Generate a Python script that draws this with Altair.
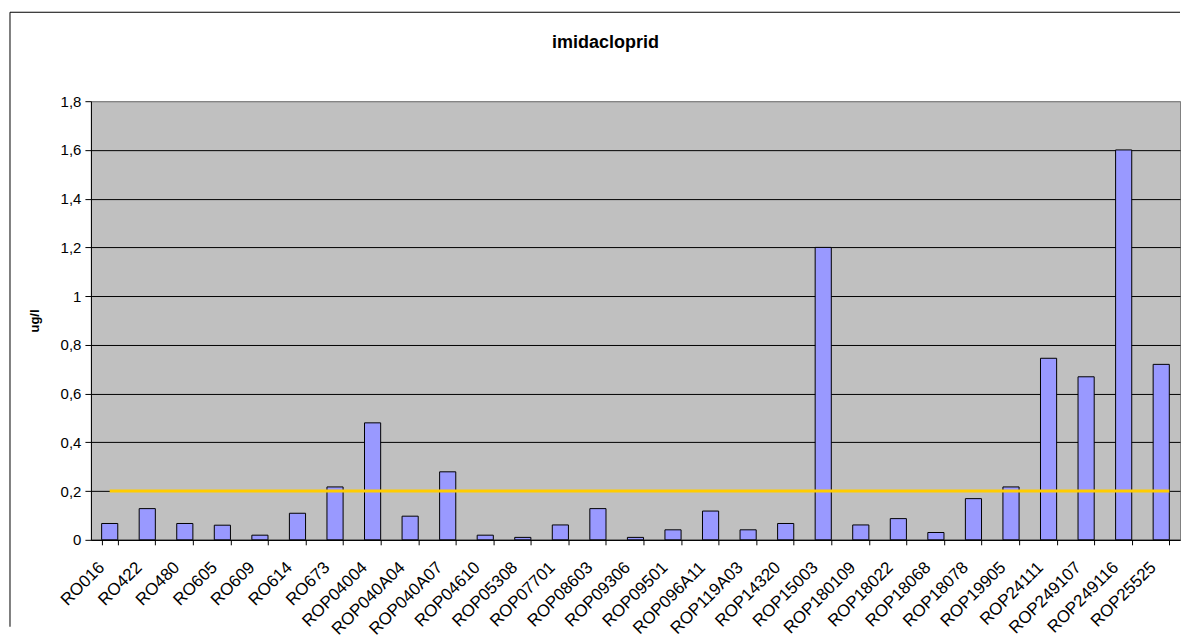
import altair as alt
import pandas as pd

categories = ["RO016", "RO422", "RO480", "RO605", "RO609", "RO614", "RO673",
              "ROP04004", "ROP040A04", "ROP040A07", "ROP04610", "ROP05308",
              "ROP07701", "ROP08603", "ROP09306", "ROP09501", "ROP096A11",
              "ROP119A03", "ROP14320", "ROP15003", "ROP180109", "ROP18022",
              "ROP18068", "ROP18078", "ROP19905", "ROP24111", "ROP249107",
              "ROP249116", "ROP25525"]
values = [0.067, 0.128, 0.067, 0.06, 0.019, 0.109, 0.217,
          0.48, 0.097, 0.279, 0.019, 0.01,
          0.061, 0.128, 0.01, 0.041, 0.118,
          0.041, 0.067, 1.2, 0.061, 0.087,
          0.03, 0.169, 0.217, 0.745, 0.669,
          1.6, 0.72]
threshold = 0.2
y_ticks = [0, 0.2, 0.4, 0.6, 0.8, 1.0, 1.2, 1.4, 1.6, 1.8]
title_text = "imidacloprid"
y_title = "ug/l"

FONT = "Liberation Sans"
W, H = 1090, 439

df = pd.DataFrame({"cat": categories, "val": values})
thr_df = pd.DataFrame({"start": [categories[0]], "end": [categories[-1]], "val": [threshold]})
one = pd.DataFrame({"k": [0]})

xscale = alt.Scale(domain=categories, paddingInner=0.57, paddingOuter=0.285)
yscale = alt.Scale(domain=[0, 1.8], nice=False)

bars = alt.Chart(df).mark_bar(color="#9999FF", stroke="black", strokeWidth=1).encode(
    x=alt.X("cat:N", scale=xscale, sort=categories,
            axis=alt.Axis(title=None, labelAngle=-45, labelAlign="right", labelBaseline="top",
                          labelFont=FONT, labelFontSize=17, labelColor="black",
                          labelPadding=14, labelOffset=-14,
                          tickBand="extent", tickSize=5, tickColor="black", domainColor="black",
                          labelOverlap=False, labelFlush=False)),
    y=alt.Y("val:Q", scale=yscale,
            axis=alt.Axis(title=y_title, values=y_ticks,
                          labelExpr="replace(format(datum.value, '.1~f'), '.', ',')",
                          labelFont=FONT, labelFontSize=15, labelColor="black", labelPadding=4,
                          titleFont=FONT, titleFontSize=13, titleFontWeight="bold", titleColor="black",
                          titlePadding=19, tickSize=6, tickColor="black", domainColor="black",
                          grid=True, gridColor={"condition": {"test": "datum.value >= 1.8", "value": "#808080"}, "value": "black"},
                          gridWidth=1, gridOpacity=1)),
)

thr = alt.Chart(thr_df).mark_rule(color="#FFCC00", strokeWidth=3).encode(
    x=alt.X("start:N", scale=xscale, sort=categories),
    x2=alt.X2("end:N", bandPosition=1),
    y=alt.Y("val:Q", scale=yscale),
)

border_left = alt.Chart(one).mark_rule(color="black", strokeWidth=1).encode(
    x=alt.value(-81), y=alt.value(-89), y2=alt.value(526))
border_top = alt.Chart(one).mark_rule(color="black", strokeWidth=1).encode(
    x=alt.value(-81), x2=alt.value(W), y=alt.value(-89))

title = alt.Chart(one).mark_text(text=title_text, font=FONT, fontSize=18, fontWeight="bold",
                                 color="black", baseline="alphabetic", align="center").encode(
    x=alt.value(515), y=alt.value(-53))

chart = alt.layer(bars, thr, border_left, border_top, title).properties(
    width=W, height=H, padding={"left": 1, "top": 3, "right": 0, "bottom": 0},
    background="white"
).configure_view(fill="#C0C0C0", stroke="#808080", strokeWidth=1)

chart.save("out.html", embed_options={"renderer": "svg", "actions": False})
